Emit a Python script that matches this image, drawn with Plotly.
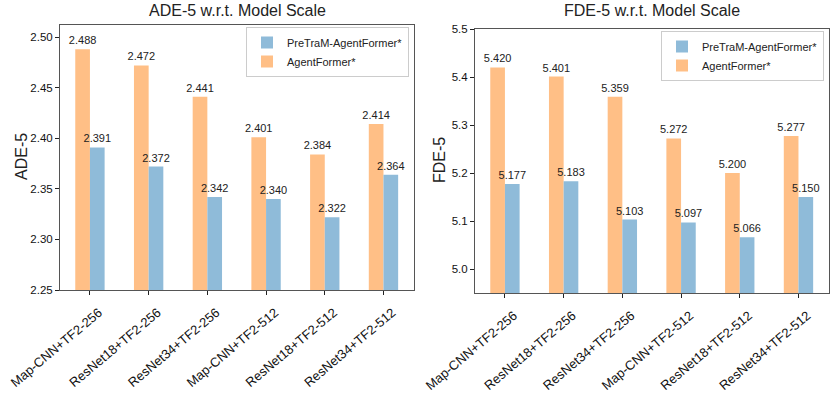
import plotly.graph_objs as go

models = ["Map-CNN+TF2-256", "ResNet18+TF2-256", "ResNet34+TF2-256",
          "Map-CNN+TF2-512", "ResNet18+TF2-512", "ResNet34+TF2-512"]

ade_agentformer = [2.488, 2.472, 2.441, 2.401, 2.384, 2.414]
ade_pretram = [2.391, 2.372, 2.342, 2.340, 2.322, 2.364]

fde_agentformer = [5.420, 5.401, 5.359, 5.272, 5.200, 5.277]
fde_pretram = [5.177, 5.183, 5.103, 5.097, 5.066, 5.150]

ORANGE = "#ffbf86"
BLUE = "#8fbbd9"
W = 830
H = 395
FONT = "Liberation Sans, Arial, sans-serif"


def px(x):
    return x / W


def py(y):
    return (H - y) / H


fig = go.Figure()

panels = [
    ("x", "y", "legend", ade_agentformer, ade_pretram),
    ("x2", "y2", "legend2", fde_agentformer, fde_pretram),
]
for xa, ya, lg, af, pt in panels:
    # orange drawn first so the blue labels sit on top; legendrank puts blue first
    fig.add_trace(go.Bar(
        x=list(range(len(models))), y=af, name="AgentFormer*", legendrank=2,
        marker=dict(color=ORANGE, line=dict(width=0)), width=0.25, offset=-0.25,
        text=[f"{v:.3f}" for v in af], textposition="outside", constraintext="none",
        textfont=dict(size=11, color="#222"), cliponaxis=False,
        xaxis=xa, yaxis=ya, legend=lg))
    fig.add_trace(go.Bar(
        x=list(range(len(models))), y=pt, name="PreTraM-AgentFormer*", legendrank=1,
        marker=dict(color=BLUE, line=dict(width=0)), width=0.25, offset=0.0,
        text=[f"{v:.3f}" for v in pt], textposition="outside", constraintext="none",
        textfont=dict(size=11, color="#222"), cliponaxis=False,
        xaxis=xa, yaxis=ya, legend=lg))

axis_style = dict(showline=True, linecolor="#555", linewidth=1, mirror=True,
                  ticks="outside", ticklen=4, tickcolor="#222", showgrid=False,
                  zeroline=False, automargin=False, ticklabeloverflow="allow",
                  tickfont=dict(size=11.5, color="#111"))
xaxis_style = {**axis_style, "tickfont": dict(size=13, color="#111"),
               "tickangle": -40, "ticklabelshift": 9, "ticklabelstandoff": 5,
               "range": [-0.51, 5.52],
               "tickvals": list(range(len(models))), "ticktext": models}

fig.update_layout(
    width=W, height=H,
    margin=dict(l=0, r=0, t=0, b=0),
    plot_bgcolor="white", paper_bgcolor="white",
    font=dict(family=FONT, color="#222"),
    barmode="overlay",
    xaxis=dict(domain=[px(60), px(414)], anchor="y", **xaxis_style),
    yaxis=dict(domain=[py(290), py(25)], range=[2.25, 2.512],
               dtick=0.05, tickformat=".2f", anchor="x", **axis_style),
    xaxis2=dict(domain=[px(475), px(829)], anchor="y2", **xaxis_style),
    yaxis2=dict(domain=[py(293), py(29)], range=[4.95, 5.5],
                dtick=0.1, tickformat=".1f", anchor="x2", **axis_style),
    legend=dict(x=px(409), y=py(27), xanchor="right", yanchor="top",
                bgcolor="white", bordercolor="#ccc", borderwidth=1,
                font=dict(size=11), tracegroupgap=0, traceorder="normal",
                itemwidth=30),
    legend2=dict(x=px(824), y=py(31), xanchor="right", yanchor="top",
                 bgcolor="white", bordercolor="#ccc", borderwidth=1,
                 font=dict(size=11), tracegroupgap=0, traceorder="normal",
                 itemwidth=30),
    annotations=[
        dict(text="ADE-5 w.r.t. Model Scale", x=px(237), y=py(0),
             xanchor="center", yanchor="top",
             xref="paper", yref="paper", showarrow=False, font=dict(size=16)),
        dict(text="FDE-5 w.r.t. Model Scale", x=px(652), y=py(0),
             xanchor="center", yanchor="top",
             xref="paper", yref="paper", showarrow=False, font=dict(size=16)),
        dict(text="ADE-5", x=px(21), y=py(157), xref="paper", yref="paper",
             xanchor="center", yanchor="middle",
             showarrow=False, textangle=-90, font=dict(size=16)),
        dict(text="FDE-5", x=px(439), y=py(160), xref="paper", yref="paper",
             xanchor="center", yanchor="middle",
             showarrow=False, textangle=-90, font=dict(size=16)),
    ],
)

# drop the default body margin so the figure sits at the window's corner
fig.write_html("out.html", config={"displayModeBar": False},
               post_script="document.body.style.margin = '0';")
